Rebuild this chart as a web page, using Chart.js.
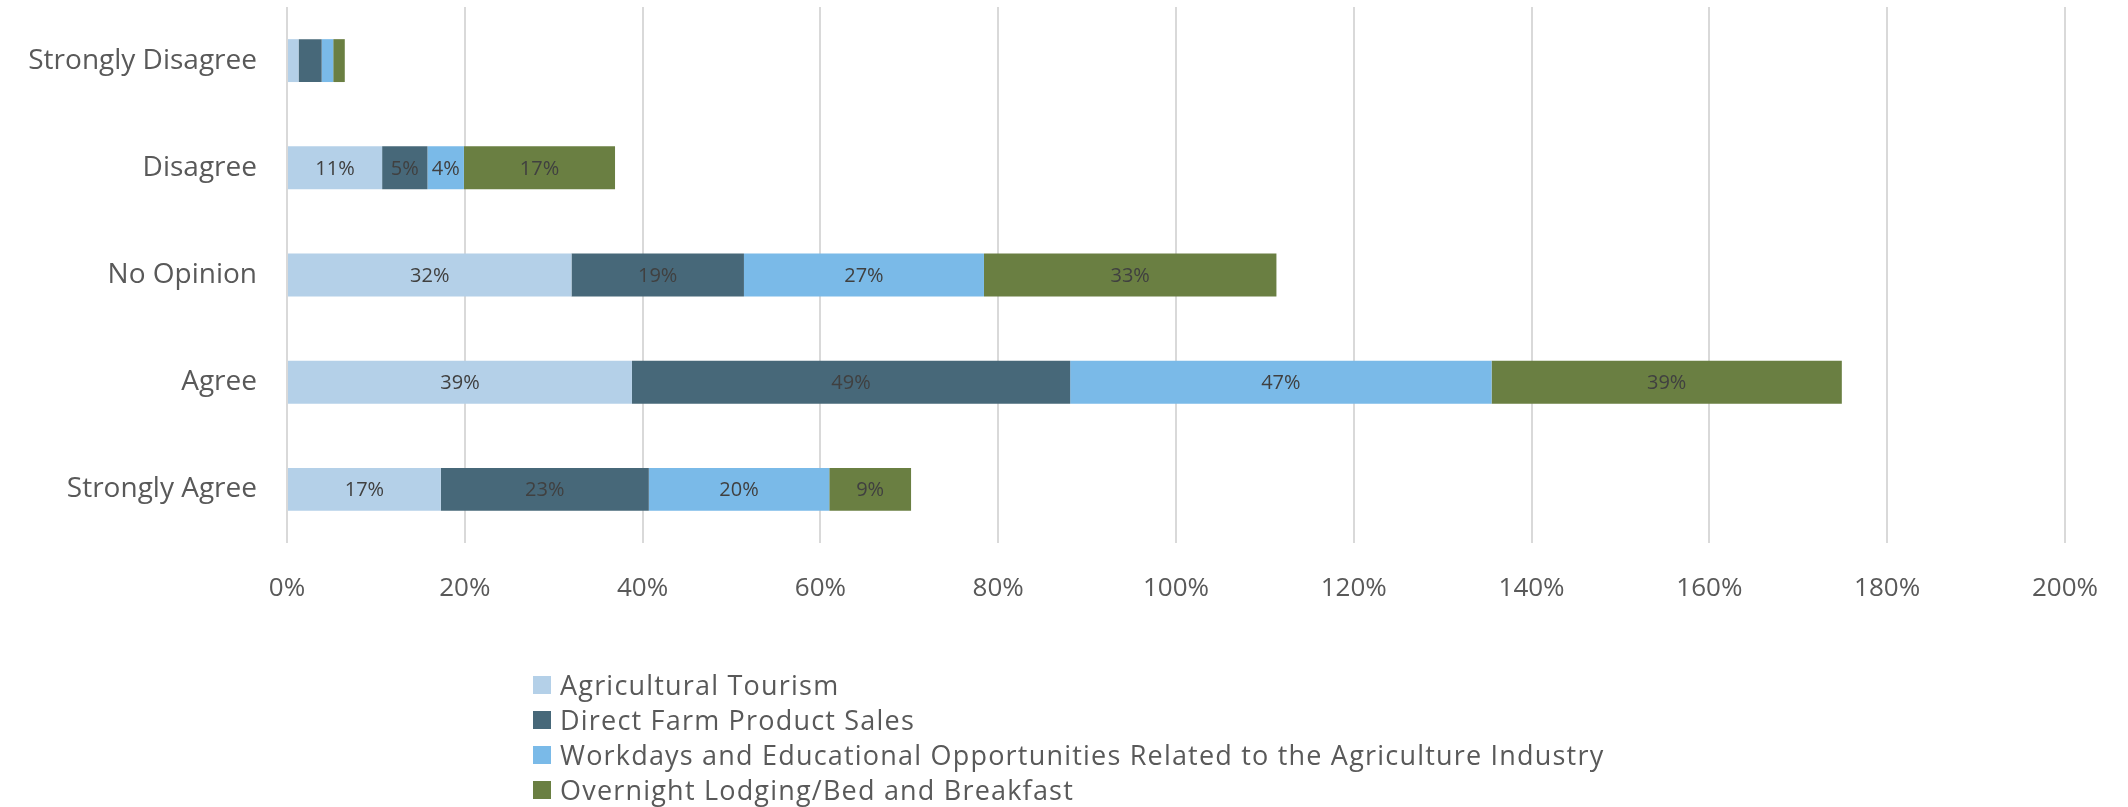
<!DOCTYPE html>
<html>
<head>
<meta charset="utf-8">
<script src="https://cdn.jsdelivr.net/npm/chart.js@4.4.1/dist/chart.umd.min.js"></script>
<style>
  html, body { margin: 0; padding: 0; background: #fff; }
  #wrap { position: relative; width: 2128px; height: 807px; }
  #legend { position: absolute; left: 533px; top: 667px; font-family: "Open Sans", sans-serif; font-size: 27px; letter-spacing: 1.2px; color: #595959; }
  #legend .item { height: 35px; line-height: 35px; display: flex; align-items: center; }
  #legend .box { width: 18px; height: 18px; margin-right: 9px; }
</style>
</head>
<body>
<div id="wrap">
  <canvas id="chart" width="2128" height="807"></canvas>
  <div id="legend"></div>
</div>
<script>
const categories = ['Strongly Disagree', 'Disagree', 'No Opinion', 'Agree', 'Strongly Agree'];
const seriesNames = [
    'Agricultural Tourism',
    'Direct Farm Product Sales',
    'Workdays and Educational Opportunities Related to the Agriculture Industry',
    'Overnight Lodging/Bed and Breakfast'
];
const agTourism = [1.3, 10.7, 32.0, 38.8, 17.3];
const farmSales = [2.6, 5.1, 19.4, 49.3, 23.4];
const workdays = [1.3, 4.1, 27.0, 47.4, 20.3];
const lodging = [1.3, 17.0, 32.9, 39.4, 9.2];
const seriesColors = ['#B4D0E8', '#476879', '#7ABAE8', '#6A7F42'];
const xTicks = [0, 20, 40, 60, 80, 100, 120, 140, 160, 180, 200];

const seriesValues = [agTourism, farmSales, workdays, lodging];

// draws the rounded % inside each segment (small ones left blank like the original)
const barLabels = {
    id: 'barLabels',
    afterDatasetsDraw(chart) {
        const ctx = chart.ctx;
        ctx.save();
        ctx.font = '20px "Open Sans", sans-serif';
        ctx.fillStyle = '#404040';
        ctx.textAlign = 'center';
        ctx.textBaseline = 'middle';
        chart.data.datasets.forEach(function(ds, i) {
            const meta = chart.getDatasetMeta(i);
            meta.data.forEach(function(bar, j) {
                const v = ds.data[j];
                if (v < 3) return;
                ctx.fillText(Math.round(v) + '%', (bar.x + bar.base) / 2, bar.y + 1);
            });
        });
        ctx.restore();
    }
};

const ctx = document.getElementById('chart').getContext('2d');
const myChart = new Chart(ctx, {
    type: 'bar',
    data: {
        labels: categories,
        datasets: seriesNames.map(function(name, i) {
            return {
                label: name,
                data: seriesValues[i],
                backgroundColor: seriesColors[i],
                borderWidth: 0,
                barPercentage: 0.4,
                categoryPercentage: 1
            };
        })
    },
    options: {
        indexAxis: 'y',
        responsive: false,
        animation: false,
        layout: { padding: { top: 7, right: 62, left: 0, bottom: 0 } },
        plugins: {
            legend: { display: false },
            tooltip: { enabled: false }
        },
        scales: {
            x: {
                stacked: true,
                min: 0,
                max: 200,
                afterBuildTicks: function(scale) {
                    scale.ticks = xTicks.map(function(v) { return { value: v }; });
                },
                afterFit: function(scale) { scale.height = 264; },
                grid: { color: '#D9D9D9', lineWidth: 2, drawTicks: false },
                border: { display: false },
                ticks: {
                    padding: 30,
                    color: '#595959',
                    font: { family: '"Open Sans", sans-serif', size: 26 },
                    callback: function(v) { return v + '%'; }
                }
            },
            y: {
                stacked: true,
                afterFit: function(scale) {
                    scale.width = 287;
                    scale.paddingTop = 0;
                    scale.paddingBottom = 0;
                },
                grid: { display: false, drawTicks: false },
                border: { display: false },
                ticks: {
                    padding: 30,
                    color: '#595959',
                    font: { family: '"Open Sans", sans-serif', size: 28 }
                }
            }
        }
    },
    plugins: [barLabels]
});

// legend as a vertical list under the chart
const legendDiv = document.getElementById('legend');
seriesNames.forEach(function(name, i) {
    const item = document.createElement('div');
    item.className = 'item';
    const box = document.createElement('span');
    box.className = 'box';
    box.style.background = seriesColors[i];
    const txt = document.createElement('span');
    txt.textContent = name;
    item.appendChild(box);
    item.appendChild(txt);
    legendDiv.appendChild(item);
});
</script>
</body>
</html>
